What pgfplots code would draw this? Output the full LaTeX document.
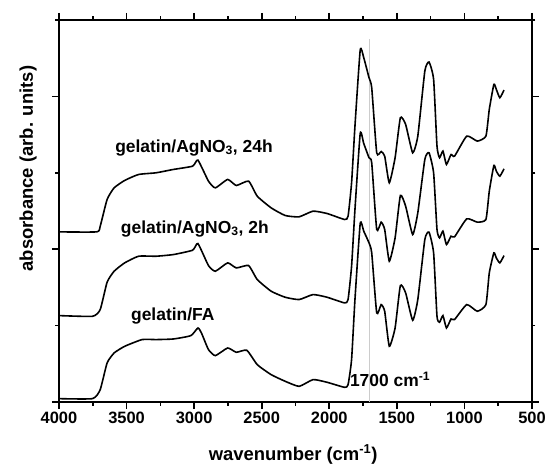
\documentclass[border=0pt]{standalone}
\usepackage{fontspec}
\setmainfont{Liberation Sans}
\usepackage{pgfplots}
\pgfplotsset{compat=1.18}
\begin{document}
\begin{tikzpicture}
\useasboundingbox (-59bp,-62bp) rectangle (488bp,402bp);
\begin{axis}[
  at={(0,0)}, anchor=south west,
  scale only axis, width=473bp, height=382bp,
  x dir=reverse, xmin=500, xmax=4000, ymin=0, ymax=5,
  xtick={500,1000,...,4000}, minor x tick num=1,
  ytick={0,2,4}, minor ytick={1,3,5}, yticklabels={},
  tick align=outside, major tick length=7bp, minor tick length=3.5bp,
  axis line style={line width=1.7bp},
  every tick/.style={line width=1.6bp, black},
  /pgf/number format/assume math mode=true,
  /pgf/number format/set thousands separator={},
  tick label style={font=\fontsize{16.5}{18}\selectfont\bfseries},
  xticklabel style={anchor=base, yshift=-14bp},
  xlabel={wavenumber (cm\textsuperscript{-1})},
  ylabel={absorbance (arb. units)},
  label style={font=\fontsize{18.5}{20}\selectfont\bfseries},
  xlabel style={at={(axis description cs:0.495,-0.152)}, anchor=base},
  ylabel style={at={(axis description cs:-0.055,0.611)}, anchor=base},
  clip=false,
]
\draw[gray!40, line width=1bp] (axis cs:1700,0) -- (axis cs:1700,4.75);

% gelatin/FA
\addplot[black, line width=1.6bp, smooth, tension=0.3] coordinates {
(4000,0.044) (3752,0.044) (3695,0.162) (3644,0.511) (3592,0.642) (3514,0.729)
(3385,0.817) (3282,0.817) (3153,0.825) (3024,0.869) (2972,0.969) (2946,0.904)
(2894,0.686) (2843,0.607) (2752,0.707) (2688,0.651) (2610,0.677) (2533,0.489)
(2430,0.358) (2326,0.271) (2223,0.205) (2120,0.293) (2016,0.258) (1887,0.192)
(1861,0.227) (1835,0.555) (1810,1.341) (1771,2.336) (1745,2.236) (1706,2.083)
(1686,1.952) (1649,1.166) (1616,1.275) (1590,1.188) (1556,0.729) (1513,0.969)
(1474,1.524) (1435,1.428) (1383,1.070) (1345,1.341) (1293,2.127) (1262,2.223)
(1228,1.952) (1203,1.122) (1184,1.044) (1159,1.131) (1133,0.969) (1099,1.087)
(1073,1.079) (983,1.275) (905,1.188) (841,1.275) (816,1.690) (782,1.952)
(764,1.886) (738,1.821) (707,1.917)
};
% gelatin/AgNO3, 2h
\addplot[black, line width=1.6bp, smooth, tension=0.3] coordinates {
(4000,1.131) (3752,1.122) (3695,1.210) (3644,1.568) (3592,1.712) (3514,1.821)
(3411,1.908) (3282,1.908) (3153,1.930) (3011,1.987) (2972,2.074) (2894,1.786)
(2843,1.712) (2752,1.821) (2688,1.755) (2597,1.786) (2533,1.603) (2430,1.450)
(2326,1.371) (2223,1.341) (2120,1.406) (2016,1.371) (1887,1.297) (1861,1.341)
(1835,1.777) (1810,2.520) (1771,3.515) (1745,3.384) (1706,3.197) (1686,3.131)
(1649,2.258) (1616,2.354) (1590,2.258) (1556,1.843) (1513,2.148) (1474,2.703)
(1435,2.563) (1383,2.192) (1345,2.476) (1293,3.175) (1262,3.262) (1228,3.000)
(1203,2.258) (1184,2.148) (1159,2.236) (1133,2.061) (1099,2.170) (1073,2.162)
(983,2.397) (905,2.354) (841,2.389) (816,2.760) (782,3.096) (764,3.022)
(738,2.956) (707,3.052)
};
% gelatin/AgNO3, 24h
\addplot[black, line width=1.6bp, smooth, tension=0.3] coordinates {
(4000,2.227) (3721,2.227) (3695,2.301) (3644,2.651) (3592,2.803) (3514,2.900)
(3411,2.978) (3282,3.000) (3153,3.044) (3011,3.087) (2972,3.166) (2894,2.891)
(2843,2.803) (2752,2.913) (2688,2.834) (2597,2.891) (2533,2.694) (2430,2.541)
(2326,2.441) (2223,2.424) (2120,2.498) (2016,2.467) (1887,2.389) (1861,2.432)
(1835,2.869) (1810,3.611) (1771,4.607) (1745,4.507) (1706,4.245) (1686,4.114)
(1649,3.262) (1616,3.279) (1590,3.218) (1556,2.869) (1513,3.197) (1474,3.721)
(1435,3.633) (1383,3.262) (1345,3.480) (1293,4.332) (1262,4.450) (1228,4.223)
(1203,3.349) (1184,3.197) (1159,3.284) (1133,3.109) (1099,3.240) (1073,3.218)
(983,3.480) (905,3.415) (841,3.480) (816,3.830) (782,4.157) (764,4.092)
(738,3.983) (707,4.083)
};

\begin{scope}[every node/.style={font=\fontsize{17.5}{19}\selectfont\bfseries, anchor=base, inner sep=0pt}]
\node at (axis cs:3001,3.27) {gelatin/AgNO\textsubscript{3}, 24h};
\node at (axis cs:2995,2.21) {gelatin/AgNO\textsubscript{3}, 2h};
\node at (axis cs:3158,1.07) {gelatin/FA};
\node at (axis cs:1550,0.20) {1700 cm\textsuperscript{-1}};
\end{scope}
\end{axis}
\end{tikzpicture}
\end{document}
